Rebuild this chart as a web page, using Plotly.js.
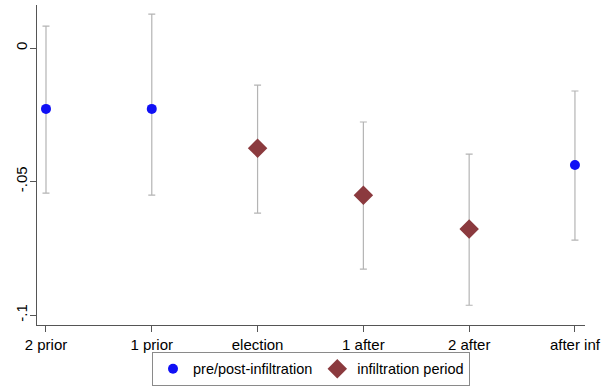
<!DOCTYPE html>
<html>
<head>
<meta charset="utf-8">
<script src="https://cdn.plot.ly/plotly-3.0.1.min.js"></script>
<style>html,body{margin:0;padding:0;background:#fff;}#chart{width:602px;height:390px;}</style>
</head>
<body>
<div id="chart"></div>
<script>
const categories = ["2 prior", "1 prior", "election", "1 after", "2 after", "after inf"];

const preX = ["2 prior", "1 prior", "after inf"];
const preY = [-0.0228, -0.0228, -0.0438];
const preLo = [-0.0543, -0.0551, -0.0719];
const preHi = [0.0082, 0.0127, -0.0161];

const infX = ["election", "1 after", "2 after"];
const infY = [-0.0375, -0.0551, -0.0678];
const infLo = [-0.0618, -0.0828, -0.0963];
const infHi = [-0.0139, -0.0277, -0.0397];

const yTickVals = [0, -0.05, -0.1];
const yTickText = ["0", "-.05", "-.1"];

function errBar(y, lo, hi) {
  return {
    type: 'data', symmetric: false,
    array: hi.map((h, i) => h - y[i]),
    arrayminus: lo.map((l, i) => y[i] - l),
    color: '#b4b4b4', thickness: 1.2, width: 3.5
  };
}

const traces = [
  {
    x: preX, y: preY, type: 'scatter', mode: 'markers',
    name: 'pre/post-infiltration',
    marker: {symbol: 'circle', size: 10, color: '#1010f5'},
    error_y: errBar(preY, preLo, preHi)
  },
  {
    x: infX, y: infY, type: 'scatter', mode: 'markers',
    name: 'infiltration period',
    marker: {symbol: 'diamond', size: 15, color: '#8b3a3e'},
    error_y: errBar(infY, infLo, infHi)
  }
];

const layout = {
  width: 602, height: 390,
  margin: {l: 37, r: 17, t: 5, b: 65, autoexpand: false},
  paper_bgcolor: '#ffffff', plot_bgcolor: '#ffffff',
  font: {family: 'Liberation Sans, Arial, sans-serif', size: 15, color: '#000'},
  showlegend: true,
  legend: {
    orientation: 'h', x: 0.5, xanchor: 'center', y: -0.084, yanchor: 'top',
    bordercolor: '#8a8a8a', borderwidth: 1, font: {size: 14.5},
    itemclick: false, tracegroupgap: 0
  },
  xaxis: {
    type: 'category', categoryorder: 'array', categoryarray: categories,
    range: [-0.085, 5.095],
    showgrid: false, zeroline: false,
    showline: true, linecolor: '#555', linewidth: 1.3,
    ticks: 'outside', ticklen: 6, tickcolor: '#555', tickwidth: 1,
    tickfont: {size: 15}
  },
  yaxis: {
    range: [-0.1037, 0.0161],
    tickvals: yTickVals, ticktext: yTickText, tickangle: -90,
    showgrid: false, zeroline: false,
    showline: true, linecolor: '#555', linewidth: 1.3,
    ticks: 'outside', ticklen: 6, tickcolor: '#555', tickwidth: 1,
    tickfont: {size: 15}, ticklabelstandoff: -3
  }
};

Plotly.newPlot('chart', traces, layout, {staticPlot: true, displayModeBar: false});
</script>
</body>
</html>
